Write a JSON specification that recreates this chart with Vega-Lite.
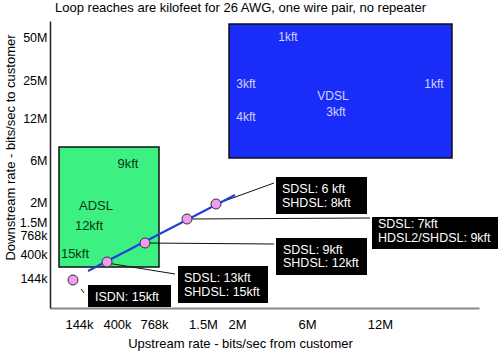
{
  "$schema": "https://vega.github.io/schema/vega-lite/v6.json",
  "width": 429,
  "height": 287,
  "autosize": "none",
  "padding": {"left": 50, "top": 21, "right": 21, "bottom": 43},
  "background": "white",
  "config": {
    "view": {"stroke": null},
    "font": "Liberation Sans",
    "title": {"fontSize": 13, "fontWeight": "normal", "color": "black", "font": "Liberation Sans"}
  },
  "title": {"text": "Loop reaches are kilofeet for 26 AWG, one wire pair, no repeater", "anchor": "middle", "dx": -24, "offset": 6},
  "datasets": {
    "boxes": [
      {"tech": "ADSL", "x": 0.9, "x2": 10.9, "y": 4.1, "y2": 16.1},
      {"tech": "VDSL", "x": 17.9, "x2": 40.2, "y": 15.0, "y2": 28.4}
    ],
    "callouts": [
      {"name": "ISDN", "x": 3.8, "x2": 12.1, "y": 0.1, "y2": 2.3},
      {"name": "SDSL13", "x": 12.8, "x2": 21.8, "y": 0.5, "y2": 4.2},
      {"name": "SDSL9", "x": 22.6, "x2": 31.7, "y": 3.3, "y2": 7.0},
      {"name": "SDSL7", "x": 32.2, "x2": 44.8, "y": 5.9, "y2": 9.1},
      {"name": "SDSL6", "x": 22.6, "x2": 31.7, "y": 9.4, "y2": 13.1}
    ],
    "leaders": [
      {"name": "ISDN", "x": 3.1, "y": 1.9, "x2": 3.4, "y2": 1.5},
      {"name": "SDSL13", "x": 5.7, "y": 4.5, "x2": 12.5, "y2": 3.4},
      {"name": "SDSL9", "x": 9.5, "y": 6.5, "x2": 22.4, "y2": 6.4},
      {"name": "SDSL7", "x": 13.7, "y": 8.9, "x2": 32.0, "y2": 9.0},
      {"name": "SDSL6", "x": 16.6, "y": 10.4, "x2": 22.4, "y2": 12.5}
    ],
    "trend": [
      {"x": 3.8, "y": 3.7, "x2": 18.5, "y2": 11.3}
    ],
    "points": [
      {"name": "ISDN", "x": 2.3, "y": 2.8},
      {"name": "SDSL13", "x": 5.7, "y": 4.6},
      {"name": "SDSL9", "x": 9.5, "y": 6.5},
      {"name": "SDSL7", "x": 13.7, "y": 8.9},
      {"name": "SDSL6", "x": 16.6, "y": 10.4}
    ],
    "calloutText": [
      {"text": "ISDN: 15kft", "x": 4.5, "y": 1.1},
      {"text": "SDSL: 13kft", "x": 13.4, "y": 3.0},
      {"text": "SHDSL: 15kft", "x": 13.4, "y": 1.6},
      {"text": "SDSL: 9kft", "x": 23.3, "y": 5.8},
      {"text": "SHDSL: 12kft", "x": 23.3, "y": 4.5},
      {"text": "SDSL: 7kft", "x": 32.8, "y": 8.4},
      {"text": "HDSL2/SHDSL: 9kft", "x": 32.8, "y": 7.0},
      {"text": "SDSL: 6 kft", "x": 23.2, "y": 11.9},
      {"text": "SHDSL: 8kft", "x": 23.2, "y": 10.5}
    ],
    "adslText": [
      {"text": "9kft", "x": 7.8, "y": 14.4},
      {"text": "ADSL", "x": 4.6, "y": 10.2},
      {"text": "12kft", "x": 3.9, "y": 8.2},
      {"text": "15kft", "x": 2.5, "y": 5.4}
    ],
    "vdslText": [
      {"text": "1kft", "x": 23.8, "y": 27.1},
      {"text": "3kft", "x": 19.6, "y": 22.4},
      {"text": "1kft", "x": 38.4, "y": 22.4},
      {"text": "VDSL", "x": 28.3, "y": 21.2},
      {"text": "3kft", "x": 28.6, "y": 19.6},
      {"text": "4kft", "x": 19.6, "y": 19.1}
    ]
  },
  "encoding": {
    "x": {
      "field": "x", "type": "quantitative",
      "scale": {"domain": [0, 42.9], "nice": false, "zero": false},
      "axis": {
        "title": "Upstream rate - bits/sec from customer",
        "values": [2.9, 6.7, 10.4, 15.3, 18.7, 25.7, 33.0],
        "labelExpr": "datum.value==2.9?'144k':datum.value==6.7?'400k':datum.value==10.4?'768k':datum.value==15.3?'1.5M':datum.value==18.7?'2M':datum.value==25.7?'6M':'12M'",
        "ticks": false, "grid": false, "labelOverlap": false,
        "labelFontSize": 13, "labelColor": "black", "labelPadding": 10,
        "domainColor": "#888888", "domainWidth": 2,
        "titleFontSize": 13, "titleFontWeight": "normal", "titleColor": "black",
        "titleX": 190, "titleY": 35, "titleBaseline": "middle", "titleAnchor": "middle"
      }
    },
    "y": {
      "field": "y", "type": "quantitative",
      "scale": {"domain": [0, 28.7], "nice": false, "zero": false},
      "axis": {
        "title": "Downstream rate - bits/sec to customer",
        "values": [3.0, 5.4, 7.3, 8.6, 10.6, 14.8, 19.0, 22.8, 27.1],
        "labelExpr": "datum.value==3.0?'144k':datum.value==5.4?'400k':datum.value==7.3?'768k':datum.value==8.6?'1.5M':datum.value==10.6?'2M':datum.value==14.8?'6M':datum.value==19.0?'12M':datum.value==22.8?'25M':'50M'",
        "ticks": false, "grid": false, "labelOverlap": false,
        "labelFontSize": 12.5, "labelColor": "black", "labelPadding": 3, "labelBaseline": "middle",
        "domainColor": "#222222", "domainWidth": 1.5,
        "titleFontSize": 13, "titleFontWeight": "normal", "titleColor": "black",
        "titleX": -40, "titleY": 126, "titleBaseline": "middle", "titleAnchor": "middle", "titleAngle": -90
      }
    }
  },
  "layer": [
    {
      "data": {"name": "boxes"},
      "mark": {"type": "rect", "stroke": "#111111", "strokeWidth": 1.5},
      "encoding": {
        "x2": {"field": "x2"}, "y2": {"field": "y2"},
        "color": {"field": "tech", "type": "nominal", "scale": {"domain": ["ADSL", "VDSL"], "range": ["#3cf082", "#1a2cf8"]}, "legend": null}
      }
    },
    {
      "data": {"name": "leaders"},
      "mark": {"type": "rule", "color": "#111111", "strokeWidth": 1},
      "encoding": {"x2": {"field": "x2"}, "y2": {"field": "y2"}}
    },
    {
      "data": {"name": "callouts"},
      "mark": {"type": "rect", "color": "black"},
      "encoding": {"x2": {"field": "x2"}, "y2": {"field": "y2"}}
    },
    {
      "data": {"name": "trend"},
      "mark": {"type": "rule", "color": "#1f3fd6", "strokeWidth": 2},
      "encoding": {"x2": {"field": "x2"}, "y2": {"field": "y2"}}
    },
    {
      "data": {"name": "points"},
      "mark": {"type": "circle", "size": 100, "fill": "#f09cf0", "stroke": "#333333", "strokeWidth": 1, "opacity": 1}
    },
    {
      "data": {"name": "calloutText"},
      "mark": {"type": "text", "align": "left", "baseline": "middle", "fontSize": 12.5, "color": "white"},
      "encoding": {"text": {"field": "text"}}
    },
    {
      "data": {"name": "adslText"},
      "mark": {"type": "text", "align": "center", "baseline": "middle", "fontSize": 13, "color": "#0a3a10"},
      "encoding": {"text": {"field": "text"}}
    },
    {
      "data": {"name": "vdslText"},
      "mark": {"type": "text", "align": "center", "baseline": "middle", "fontSize": 12, "color": "#d0d4ff"},
      "encoding": {"text": {"field": "text"}}
    }
  ]
}
